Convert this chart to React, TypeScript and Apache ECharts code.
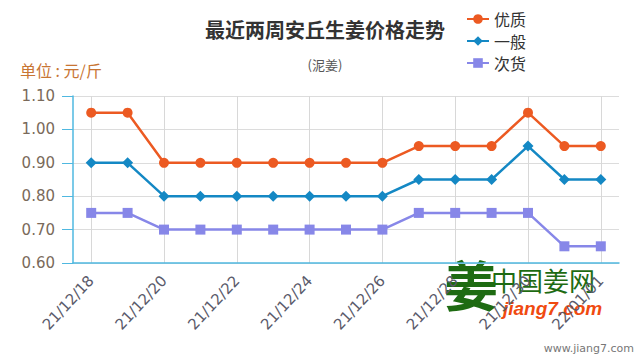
import React, { useEffect, useRef } from "react";
import * as echarts from "echarts";

const categories = [
  "21/12/18", "21/12/19", "21/12/20", "21/12/21", "21/12/22", "21/12/23", "21/12/24",
  "21/12/25", "21/12/26", "21/12/27", "21/12/28", "21/12/29", "21/12/30", "21/12/31", "22/01/01",
];
const youzhi = [1.05, 1.05, 0.9, 0.9, 0.9, 0.9, 0.9, 0.9, 0.9, 0.95, 0.95, 0.95, 1.05, 0.95, 0.95];
const yiban = [0.9, 0.9, 0.8, 0.8, 0.8, 0.8, 0.8, 0.8, 0.8, 0.85, 0.85, 0.85, 0.95, 0.85, 0.85];
const cihuo = [0.75, 0.75, 0.7, 0.7, 0.7, 0.7, 0.7, 0.7, 0.7, 0.75, 0.75, 0.75, 0.75, 0.65, 0.65];

const FONT = "'Noto Sans CJK SC', 'Noto Sans', sans-serif";
const NUMFONT = "'DejaVu Sans', sans-serif";

export default function App() {
  const ref = useRef<HTMLDivElement>(null);
  useEffect(() => {
    if (!ref.current) return;
    const chart = echarts.init(ref.current, null, { renderer: "svg" });
    const axisBlue = "#4fb8e0";
    chart.setOption({
      animation: false,
      textStyle: { fontFamily: FONT },
      title: [
        {
          text: "最近两周安丘生姜价格走势",
          left: 320,
          textAlign: "center",
          top: 14,
          textStyle: { fontSize: 20, fontWeight: "bold", color: "#333", fontFamily: FONT },
        },
        {
          text: "(泥姜)",
          left: 320,
          textAlign: "center",
          top: 53,
          textStyle: { fontSize: 13, fontWeight: "normal", color: "#555", fontFamily: FONT },
        },
      ],
      legend: {
        orient: "vertical",
        left: 461,
        top: 6,
        itemGap: 6,
        itemWidth: 22,
        itemHeight: 12,
        textStyle: { fontSize: 16, color: "#333", fontFamily: FONT },
        data: ["优质", "一般", "次货"],
      },
      graphic: [
        {
          type: "text",
          left: 20,
          top: 62,
          style: { text: "单位 : 元/斤", fontSize: 16, fill: "#c87533", fontFamily: FONT },
        },
        {
          type: "text",
          left: 444,
          top: 256,
          style: { text: "姜", fontSize: 54, fontWeight: "bold", fill: "#1e6b12", fontFamily: FONT },
        },
        {
          type: "text",
          left: 491,
          top: 266,
          style: { text: "中国姜网", fontSize: 26, fill: "#1e6b12", fontFamily: FONT },
        },
        {
          type: "text",
          left: 503,
          top: 299,
          style: { text: "jiang7.com", fontSize: 19, fontWeight: "bold", fontStyle: "italic", fill: "#f04a10", fontFamily: "'Liberation Sans', sans-serif" },
        },
        {
          type: "text",
          right: 6,
          top: 343,
          style: { text: "www.jiang7.com", fontSize: 11, fill: "#777", fontFamily: NUMFONT },
        },
      ],
      grid: { left: 73, right: 21, top: 96, bottom: 97 },
      xAxis: {
        type: "category",
        data: categories,
        boundaryGap: true,
        axisLine: { lineStyle: { color: axisBlue, width: 1.5 } },
        axisTick: { interval: 1, alignWithLabel: true, length: 12, lineStyle: { color: axisBlue } },
        splitLine: { show: true, interval: 1, alignWithLabel: true, lineStyle: { color: "#d8d8d8" } },
        axisLabel: { interval: 1, rotate: 47, fontSize: 15, color: "#5a5a6a", margin: 15, fontFamily: NUMFONT },
      },
      yAxis: {
        type: "value",
        min: 0.6,
        max: 1.1,
        interval: 0.1,
        axisLine: { show: true, lineStyle: { color: axisBlue, width: 1.5 } },
        axisTick: { show: true, length: 11, lineStyle: { color: axisBlue } },
        splitLine: { show: true, lineStyle: { color: "#dcdcdc" } },
        axisLabel: {
          fontSize: 15,
          color: "#7a6a5a",
          margin: 18,
          fontFamily: NUMFONT,
          formatter: (v: number) => v.toFixed(2),
        },
      },
      series: [
        {
          name: "优质",
          type: "line",
          data: youzhi,
          symbol: "circle",
          symbolSize: 10,
          lineStyle: { width: 2.5, color: "#ec5a22" },
          itemStyle: { color: "#ec5a22" },
        },
        {
          name: "一般",
          type: "line",
          data: yiban,
          symbol: "diamond",
          symbolSize: 11,
          lineStyle: { width: 2.5, color: "#1488c4" },
          itemStyle: { color: "#1488c4" },
        },
        {
          name: "次货",
          type: "line",
          data: cihuo,
          symbol: "rect",
          symbolSize: 10,
          lineStyle: { width: 2.5, color: "#8787e8" },
          itemStyle: { color: "#8787e8" },
        },
      ],
    });
    return () => chart.dispose();
  }, []);
  return <div ref={ref} style={{ width: 640, height: 360, position: "absolute", left: 0, top: 0 }} />;
}
